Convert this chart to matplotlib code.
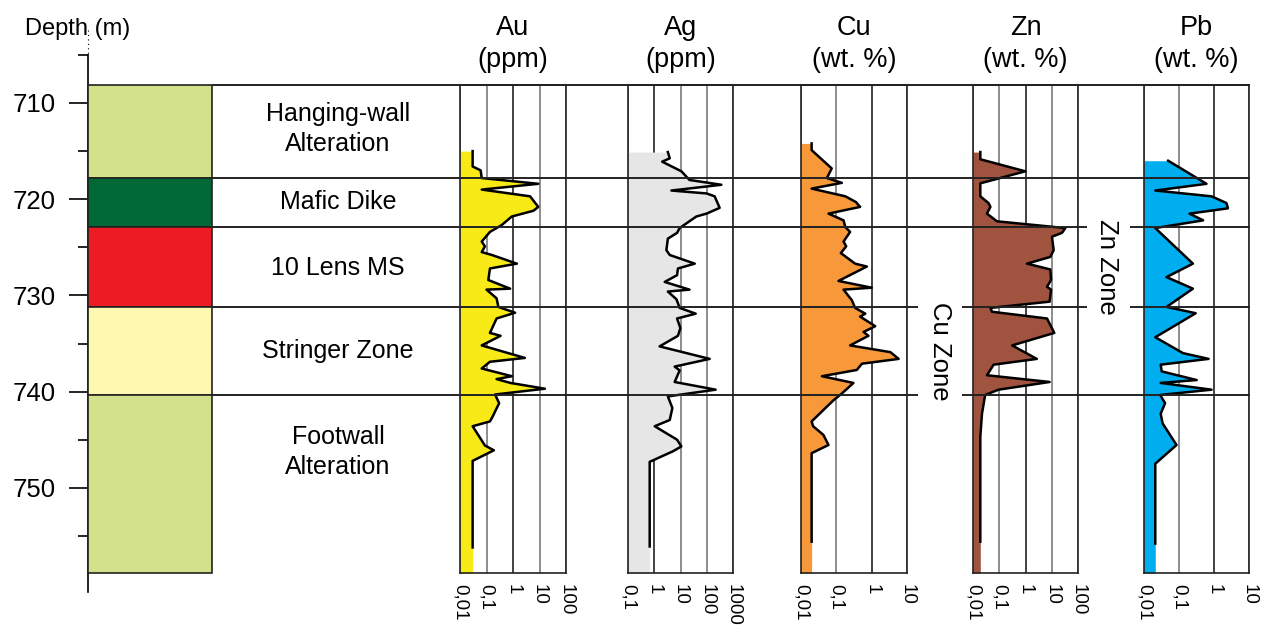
import numpy as np
import matplotlib
matplotlib.use("Agg")
from matplotlib import pyplot as plt

plt.rcParams['font.family'] = ['Liberation Sans', 'DejaVu Sans']

# lithology units (depth in m)
unit_top = [708.1, 717.8, 722.85, 731.25, 740.4]
unit_base = [717.8, 722.85, 731.25, 740.4, 758.9]
unit_name = ['Hanging-wall\nAlteration', 'Mafic Dike', '10 Lens MS', 'Stringer Zone', 'Footwall\nAlteration']
unit_label_depth = [712.7, 720.3, 727.2, 735.8, 746.3]
unit_color = ['#d3e28a', '#006837', '#ed1c24', '#fff8b0', '#d3e28a']

cu_zone = (731.25, 740.4)
zn_zone = (722.85, 731.25)

depth_ticks = [710, 720, 730, 740, 750]

# assays
au_depth = [715.0, 716.6, 717.0, 717.8, 718.4, 719.0, 719.7, 720.8, 721.2, 721.8, 722.7, 723.4, 724.4, 724.9,
            725.5, 725.8, 726.7, 727.2, 728.4, 729.3, 729.4, 730.3, 731.2, 731.8, 732.4, 733.9, 734.2, 735.2,
            736.5, 736.9, 737.6, 738.4, 738.7, 739.1, 739.7, 740.3, 741.2, 742.6, 743.1, 743.6, 745.6, 746.1,
            747.2, 756.2]
au_ppm = [0.03, 0.03, 0.06, 0.066, 9.0, 0.066, 4.4, 9.0, 5.9, 0.9, 0.37, 0.135, 0.066, 0.087,
          0.066, 0.16, 1.4, 0.135, 0.117, 0.78, 0.10, 0.24, 0.28, 1.2, 0.24, 0.135, 0.34, 0.066,
          2.8, 0.135, 0.066, 0.9, 0.24, 0.8, 16, 0.21, 0.30, 0.17, 0.135, 0.03, 0.087, 0.19,
          0.03, 0.03]

ag_depth = [715.1, 715.75, 716.1, 717.1, 718.0, 718.5, 719.1, 719.4, 719.7, 720.9, 721.5, 721.8, 722.5, 723.0,
            723.5, 724.1, 725.3, 725.8, 726.7, 727.2, 727.9, 728.6, 729.4, 729.6, 730.4, 731.3, 731.9, 732.4,
            733.4, 734.2, 735.3, 736.6, 737.4, 737.8, 739.0, 739.8, 740.5, 741.7, 742.95, 743.6, 745.0, 745.7,
            746.2, 747.3, 756.1]
ag_ppm = [3.3, 3.9, 2.0, 10.8, 22, 360, 4.5, 98, 200, 310, 98, 40, 17, 9.3,
          7.4, 3.3, 2.9, 3.9, 35, 8, 7.4, 2.5, 22, 3.3, 7, 9.3, 38, 7.4,
          9.9, 8, 1.6, 129, 6, 9.3, 6, 218, 3.3, 4.9, 3.9, 1.04, 7.4, 10.8,
          5.2, 0.67, 0.67]

cu_depth = [714.2, 714.9, 716.8, 717.8, 718.3, 718.9, 719.7, 720.3, 720.8, 721.5, 722.2, 722.9, 723.4, 724.4,
            724.9, 725.6, 726.7, 727.0, 728.5, 729.2, 729.4, 730.5, 731.3, 731.9, 732.2, 733.2, 733.8, 734.2,
            735.2, 735.9, 736.6, 737.1, 737.75, 738.4, 739.1, 740.2, 740.9, 743.1, 743.6, 744.5, 745.55, 746.4,
            755.6]
cu_pct = [0.020, 0.020, 0.074, 0.054, 0.143, 0.020, 0.18, 0.36, 0.47, 0.060, 0.16, 0.18, 0.245, 0.16,
          0.19, 0.134, 0.34, 0.73, 0.115, 1.0, 0.16, 0.275, 0.34, 0.66, 0.47, 1.26, 0.59, 0.81,
          0.245, 3.4, 5.8, 0.53, 0.38, 0.039, 0.305, 0.143, 0.083, 0.020, 0.022, 0.043, 0.060, 0.020,
          0.020]

zn_depth = [715.1, 715.85, 717.1, 718.35, 719.7, 720.4, 720.8, 721.5, 722.3, 723.0, 723.5, 723.9, 725.3, 726.0,
            726.7, 727.3, 728.4, 729.1, 729.4, 730.65, 731.3, 731.7, 732.4, 733.9, 735.2, 736.6, 737.2, 738.3,
            739.0, 739.8, 740.35, 742.3, 744.7, 755.6]
zn_pct = [0.019, 0.019, 0.98, 0.019, 0.019, 0.039, 0.046, 0.034, 0.082, 33, 24.5, 10.2, 11.8, 8.8,
          1.14, 8.8, 9.4, 6.6, 9.4, 8.3, 0.046, 0.053, 6.6, 12.5, 0.31, 2.7, 0.061, 0.034,
          8.3, 0.094, 0.029, 0.022, 0.019, 0.019]

pb_depth = [716.0, 718.4, 719.1, 719.7, 720.4, 720.95, 721.5, 722.2, 723.0, 726.7, 728.1, 729.3, 731.2, 731.85,
            734.35, 736.0, 736.6, 737.2, 737.9, 738.8, 739.1, 739.8, 740.35, 741.2, 742.3, 743.3, 745.55, 747.5,
            755.8]
pb_pct = [0.049, 0.61, 0.021, 0.85, 2.27, 2.5, 0.20, 0.49, 0.021, 0.25, 0.044, 0.25, 0.044, 0.30,
          0.021, 0.13, 0.70, 0.030, 0.032, 0.32, 0.030, 0.85, 0.029, 0.040, 0.030, 0.034, 0.085, 0.021,
          0.021]

elements = ['Au', 'Ag', 'Cu', 'Zn', 'Pb']
units = ['(ppm)', '(ppm)', '(wt. %)', '(wt. %)', '(wt. %)']
depths = [au_depth, ag_depth, cu_depth, zn_depth, pb_depth]
values = [au_ppm, ag_ppm, cu_pct, zn_pct, pb_pct]
ticks = [[0.01, 0.1, 1, 10, 100], [0.1, 1, 10, 100, 1000], [0.01, 0.1, 1, 10],
         [0.01, 0.1, 1, 10, 100], [0.01, 0.1, 1, 10]]
tick_labels = [['0,01', '0,1', '1', '10', '100'], ['0,1', '1', '10', '100', '1000'], ['0,01', '0,1', '1', '10'],
               ['0,01', '0,1', '1', '10', '100'], ['0,01', '0,1', '1', '10']]
fills = ['#f7ea16', '#e6e6e6', '#f7993a', '#a0533f', '#00aeef']

# layout (pixels)
W, H = 1267, 628
panel_x = [(460, 566), (628, 733), (801, 907), (973, 1078), (1144, 1249)]
top_px, bot_px = 85, 573


def dpx(py):
    # pixel row -> depth
    return 710 + (py - 103) / 9.62


fig = plt.figure(figsize=(W / 100, H / 100), dpi=100)

# depth axis
ax_d = fig.add_axes([88 / W, 1 - 592 / H, 0.0005, (592 - 33) / H])
ax_d.set_ylim(dpx(592), dpx(33))
for s in ['top', 'right', 'bottom']:
    ax_d.spines[s].set_visible(False)
ax_d.spines['left'].set_bounds(705, dpx(592))
ax_d.spines['left'].set_linewidth(1.2)
ax_d.set_xticks([])
ax_d.set_yticks(depth_ticks)
ax_d.set_yticks([t + 5 for t in [700] + depth_ticks], minor=True)
ax_d.tick_params(axis='y', which='major', length=13.5, width=1.2, pad=10, labelsize=18.5)
ax_d.tick_params(axis='y', which='minor', length=7, width=1.2)
ax_d.plot([0, 0], [dpx(30), 705], transform=ax_d.get_yaxis_transform(), color='k', lw=0.8,
          ls=(0, (1, 3)), clip_on=False)
fig.text(25 / W, 1 - 29 / H, 'Depth (m)', fontsize=17, ha='left', va='center')

# assay panels
for i in range(5):
    x0, x1 = panel_x[i]
    ax = fig.add_axes([x0 / W, 1 - bot_px / H, (x1 - x0) / W, (bot_px - top_px) / H])
    ax.set_xscale('log')
    lo, hi = ticks[i][0], ticks[i][-1]
    ax.set_xlim(lo, hi)
    ax.set_ylim(dpx(bot_px), dpx(top_px))
    d = list(depths[i]) + [dpx(bot_px)]
    v = list(values[i]) + [values[i][-1]]
    ax.fill_betweenx(d, lo, v, color=fills[i], lw=0, zorder=2)
    ax.plot(values[i], depths[i], color='k', lw=1.8, zorder=3)
    ax.set_yticks([])
    ax.set_xticks(ticks[i])
    ax.set_xticklabels(tick_labels[i])
    ax.xaxis.set_minor_locator(matplotlib.ticker.NullLocator())
    ax.tick_params(axis='x', length=0, pad=8, labelsize=13.5, labelrotation=270)
    ax.grid(axis='x', lw=1.2, zorder=1)
    for gl, t in zip(ax.get_xgridlines(), ticks[i]):
        gl.set_color('#222222' if t == 1 else '#7a7a7a')
    ax.set_axisbelow(True)
    for s in ax.spines.values():
        s.set_linewidth(1.2)
        s.set_color('#222222')
    xc = (x0 + x1) / 2 / W
    fig.text(xc, 1 - 28 / H, elements[i], fontsize=19.5, ha='center', va='center')
    fig.text(xc, 1 - 60 / H, units[i], fontsize=19.5, ha='center', va='center')

# overlay: lithology column, boundary lines, labels
ax_o = fig.add_axes([0, 0, 1, 1], zorder=10)
ax_o.set_xlim(0, W)
ax_o.set_ylim(dpx(H), dpx(0))
ax_o.axis('off')
ax_o.patch.set_alpha(0)

thick = np.array(unit_base) - np.array(unit_top)
ax_o.bar(150, thick, bottom=unit_top, width=124, color=unit_color, edgecolor='#222222', lw=1.2)
for dep, name in zip(unit_label_depth, unit_name):
    ax_o.text(338, dep, name, fontsize=18, ha='center', va='center', linespacing=1.3)

line_depths = [unit_top[0]] + unit_base[:-1]
for dep in line_depths:
    segs = [(212, 1250)]
    gaps = []
    if dep in cu_zone:
        gaps.append((918, 962))
    if dep in zn_zone:
        gaps.append((1087, 1130))
    for g0, g1 in gaps:
        new = []
        for a, b in segs:
            if g0 > a and g1 < b:
                new += [(a, g0), (g1, b)]
            else:
                new.append((a, b))
        segs = new
    for a, b in segs:
        ax_o.hlines(dep, a, b, color='#222222', lw=1.4)

ax_o.text(940, sum(cu_zone) / 2, 'Cu Zone', rotation=270, fontsize=18.5, ha='center', va='center')
ax_o.text(1107, sum(zn_zone) / 2, 'Zn Zone', rotation=270, fontsize=18.5, ha='center', va='center')

fig.savefig('out.png', dpi=100)
